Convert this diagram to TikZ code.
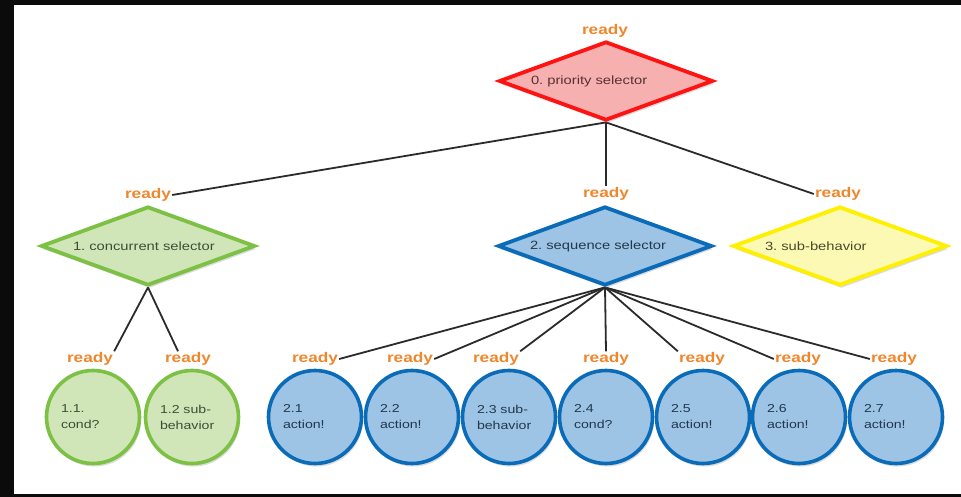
\documentclass[tikz,border=0pt]{standalone}
\usepackage{fontspec}
\setmainfont{Liberation Sans}[FakeStretch=1.23]
\usetikzlibrary{shapes.geometric,shadows}
\pgfdeclarelayer{frame}
\pgfdeclarelayer{bg}
\pgfsetlayers{frame,bg,main}
\definecolor{framec}{HTML}{0B0B0B}
\definecolor{readyc}{HTML}{EF872D}
\definecolor{redb}{HTML}{FF1212}
\definecolor{redf}{HTML}{F7B0B0}
\definecolor{redt}{HTML}{5A3034}
\definecolor{greenb}{HTML}{7CC143}
\definecolor{greenf}{HTML}{D0E6B8}
\definecolor{greent}{HTML}{3F4C36}
\definecolor{blueb}{HTML}{0A6BB8}
\definecolor{bluef}{HTML}{9DC4E4}
\definecolor{bluet}{HTML}{22384F}
\definecolor{yellowb}{HTML}{FFF000}
\definecolor{yellowf}{HTML}{FBF9B4}
\definecolor{yellowt}{HTML}{4A4A2C}
\definecolor{connc}{HTML}{2B2B2B}
\frenchspacing
\begin{document}
\begin{tikzpicture}[x=1pt,y=-1pt,
  softshadow/.style={drop shadow={shadow xshift=1.5pt,shadow yshift=-3pt,opacity=0.28}},
  dia/.style={shape=diamond,aspect=2.7,minimum width=214pt,minimum height=79pt,
    inner sep=0pt,text width=150pt,align=left,line width=3.8pt,
    font=\fontsize{12}{14}\selectfont\frenchspacing,softshadow},
  leaf/.style={shape=circle,minimum size=93pt,inner sep=0pt,text width=64pt,
    align=left,line width=3.6pt,font=\fontsize{11.5}{16}\selectfont,softshadow},
  rdy/.style={inner sep=1pt,text=readyc,font=\fontsize{14}{16}\selectfont\bfseries},
  conn/.style={draw=connc,line width=1.8pt},
  greenn/.style={draw=greenb,fill=greenf,text=greent},
  bluen/.style={draw=blueb,fill=bluef,text=bluet}]
\useasboundingbox (0,0) rectangle (961,497);
\begin{pgfonlayer}{frame}
\fill[white] (0,0) rectangle (961,497);
\fill[framec] (0,0) rectangle (961,5);
\fill[framec] (0,0) rectangle (14,497);
\fill[framec] (0,494) rectangle (961,497);
\end{pgfonlayer}

% diamonds
\node[dia,draw=redb,fill=redf,text=redt] (d0) at (606,81) {0. priority selector};
\node[dia,greenn] (d1) at (148,246) {1. concurrent selector};
\node[dia,bluen] (d2) at (605,246) {2. sequence selector};
\node[dia,draw=yellowb,fill=yellowf,text=yellowt] (d3) at (840,246) {3. sub-behavior};

\node[rdy] (r0) at (605,31) {ready};
\node[rdy] (r1) at (148,195) {ready};
\node[rdy] (r2) at (606,194) {ready};
\node[rdy] (r3) at (838,194) {ready};

% leaves
\node[leaf,greenn] (c11) at (93,417) {1.1.\\cond?};
\node[leaf,greenn] (c12) at (192,417) {1.2 sub-\\behavior};
\node[leaf,bluen] (c21) at (315,417) {2.1\\action!};
\node[leaf,bluen] (c22) at (412,417) {2.2\\action!};
\node[leaf,bluen] (c23) at (509,417) {2.3 sub-\\behavior};
\node[leaf,bluen] (c24) at (606,417) {2.4\\cond?};
\node[leaf,bluen] (c25) at (703,417) {2.5\\action!};
\node[leaf,bluen] (c26) at (799,417) {2.6\\action!};
\node[leaf,bluen] (c27) at (896,417) {2.7\\action!};

\node[rdy] (r11) at (90,359) {ready};
\node[rdy] (r12) at (188,359) {ready};
\node[rdy] (r21) at (315,359) {ready};
\node[rdy] (r22) at (410,359) {ready};
\node[rdy] (r23) at (496,359) {ready};
\node[rdy] (r24) at (606,359) {ready};
\node[rdy] (r25) at (702,359) {ready};
\node[rdy] (r26) at (798,359) {ready};
\node[rdy] (r27) at (894,359) {ready};

\begin{pgfonlayer}{bg}
\draw[conn] (d0.south) -- (r1.east);
\draw[conn] (d0.south) -- (r2.north);
\draw[conn] (d0.south) -- (r3.west);
\draw[conn] (d1.south) -- (r11.north east);
\draw[conn] (d1.south) -- ([xshift=-10pt]r12.north);
\draw[conn] (d2.south) -- (r21.east);
\draw[conn] (d2.south) -- (r22.east);
\draw[conn] (d2.south) -- (r23.north east);
\draw[conn] (d2.south) -- (r24.north);
\draw[conn] (d2.south) -- (r25.north west);
\draw[conn] (d2.south) -- (r26.west);
\draw[conn] (d2.south) -- (r27.west);
\end{pgfonlayer}
\end{tikzpicture}
\end{document}
